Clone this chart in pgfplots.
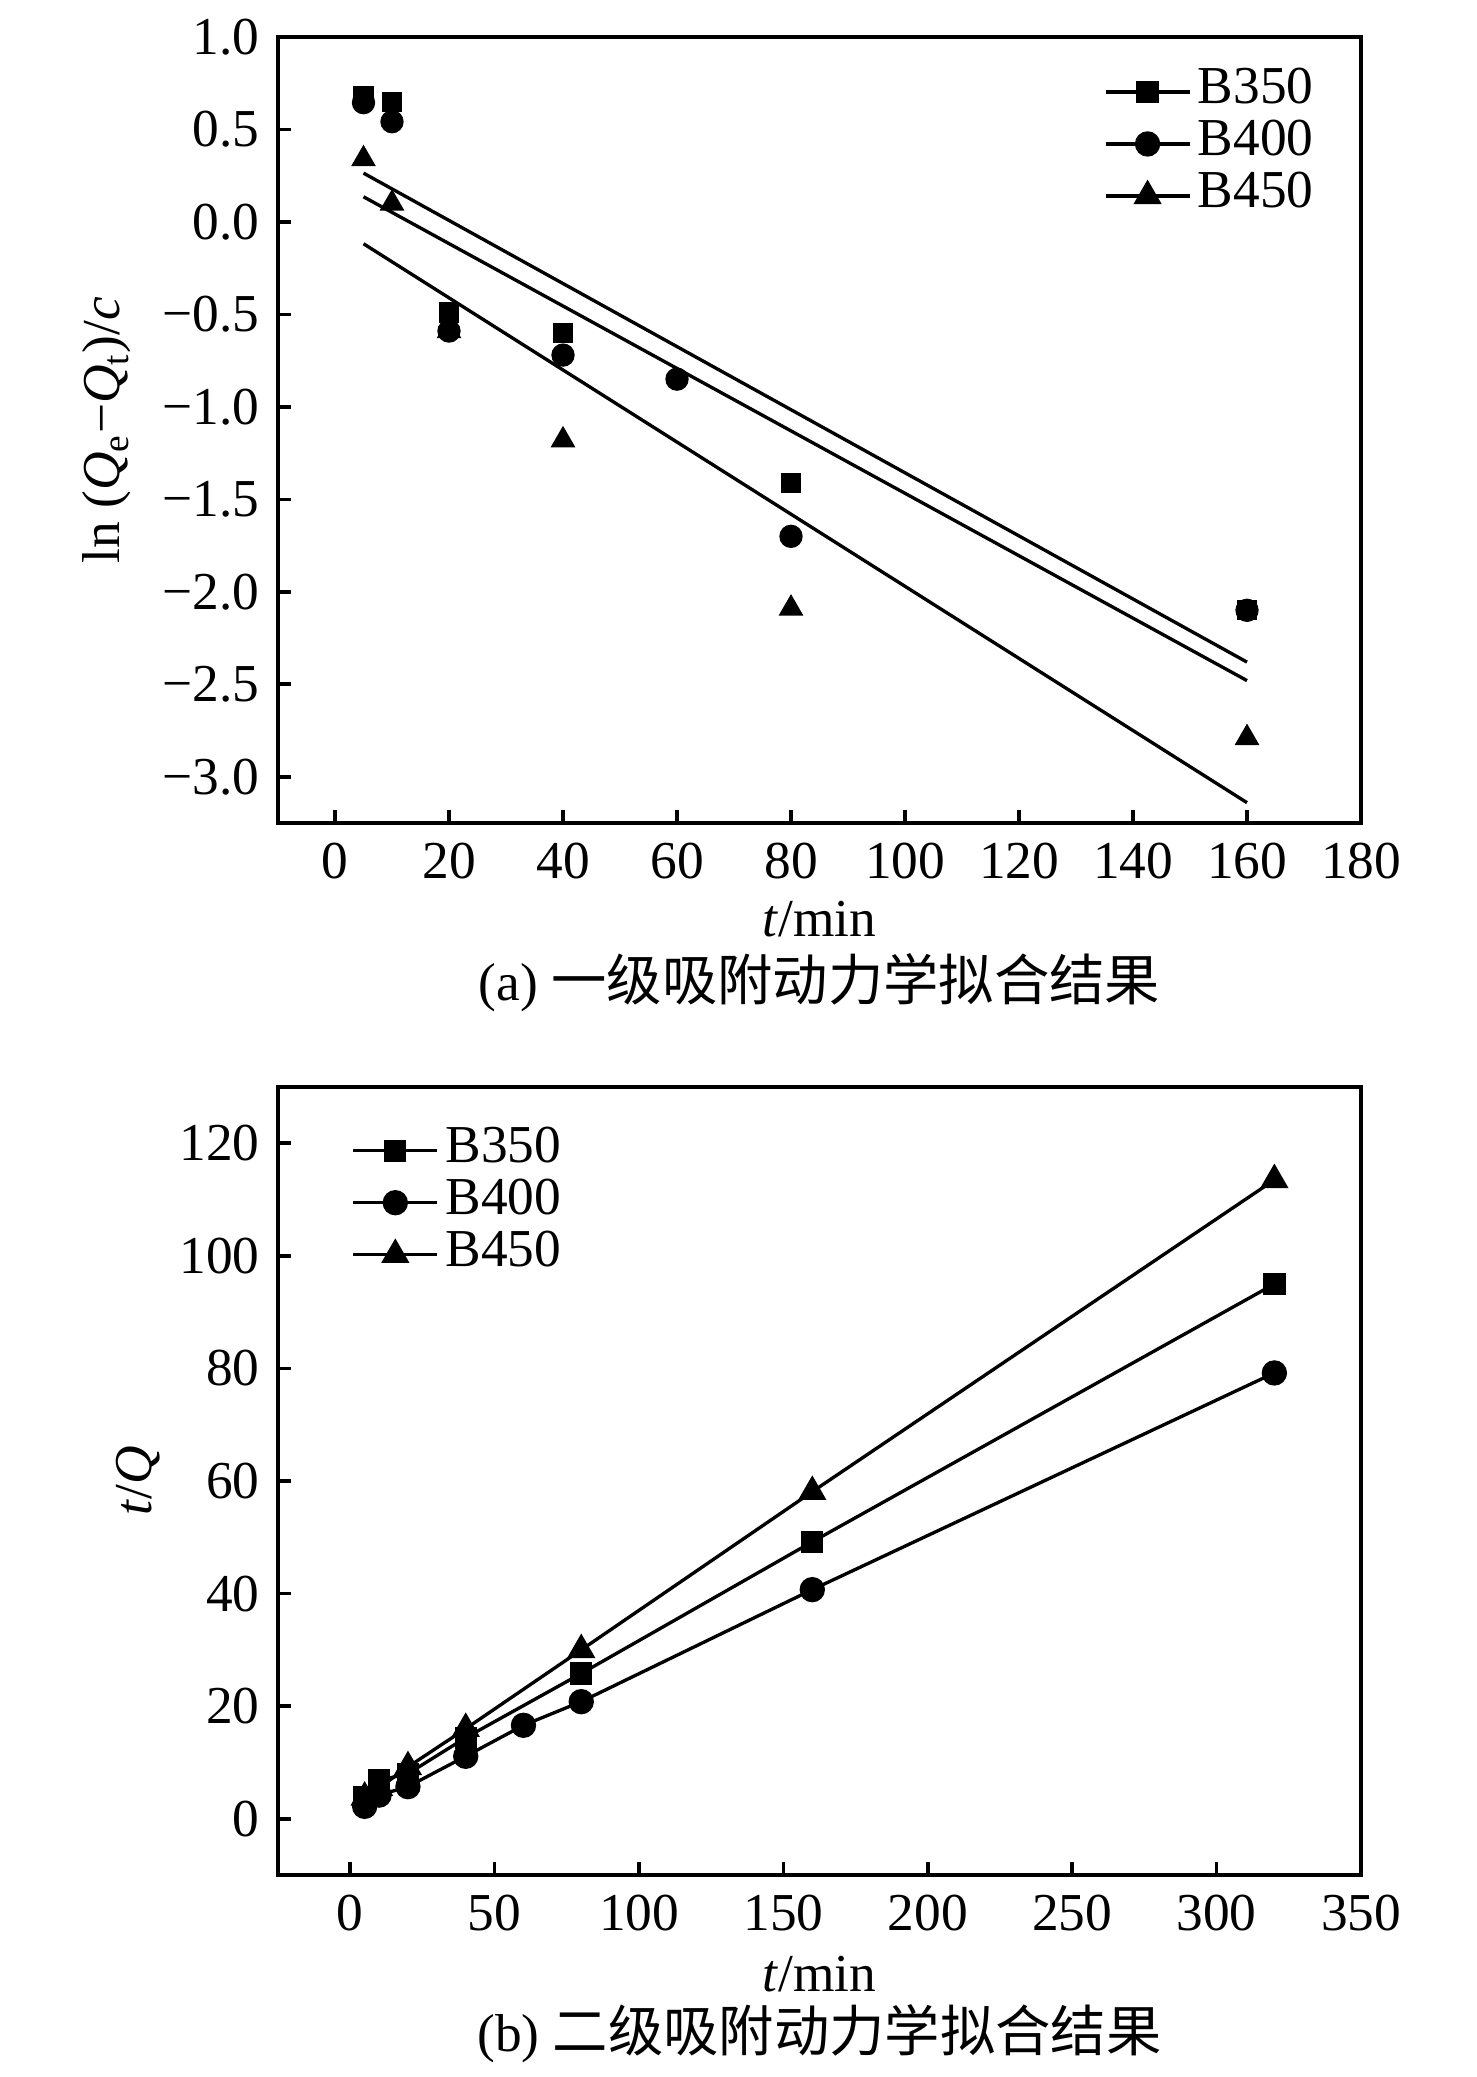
\documentclass[border=0pt]{standalone}
\usepackage{pgfplots}
\pgfplotsset{compat=1.18}
\usepackage{fontspec}
\setmainfont{Liberation Serif}
\newfontfamily\cjk{Noto Sans CJK SC}
\newcommand{\fs}{\fontsize{16}{19}\selectfont}
\pgfplotsset{
  myaxis/.style={
    scale only axis,
    width=324.9pt,
    axis line style={line width=1.2pt},
    tick pos=left,
    tick align=inside,
    major tick length=4pt,
    tick style={line width=1.1pt,black},
    /pgf/number format/assume math mode=true,
    tick label style={font=\fs},
    xticklabel style={yshift=-2.6pt},
    yticklabel style={xshift=-2pt},
    legend cell align=left,
    legend style={draw=none, fill=none, font=\fs, inner sep=0pt,
      nodes={inner ysep=0pt, text height=11.2pt, text depth=4.4pt},
      column sep=0pt},
    legend image code/.code={
      \draw[mark repeat=2,mark phase=2,#1] plot coordinates {(0pt,0pt) (12.6pt,0pt) (25.2pt,0pt)};},
    clip=false,
  },
  sq/.style={mark=square*, mark size=2.85pt, black, mark options={solid}},
  ci/.style={mark=*, mark size=3.3pt, black, mark options={solid}},
  tr/.style={mark=triangle*, mark size=3.9pt, black, mark options={solid}},
}
\begin{document}
\begin{tikzpicture}
\path[use as bounding box] (0pt,0pt) rectangle (442.8pt,-623.1pt);

% ---------------- panel (a) ----------------
\begin{axis}[myaxis,
  at={(83.4pt,-246.9pt)}, anchor=south west,
  height=235.8pt,
  xmin=-10, xmax=180, ymin=-3.25, ymax=1.0,
  xtick={0,20,...,180},
  ytick={-3,-2.5,-2,-1.5,-1,-0.5,0,0.5,1},
  yticklabels={−3.0,−2.5,−2.0,−1.5,−1.0,−0.5,0.0,0.5,1.0},
  legend style={at={(0.762,0.964)}, anchor=north west},
]
\addlegendimage{sq, line width=1pt}
\addlegendentry{B350}
\addlegendimage{ci, line width=1pt}
\addlegendentry{B400}
\addlegendimage{tr, line width=1pt}
\addlegendentry{B450}
% fitted lines
\addplot[black, line width=1pt, no marks, forget plot] coordinates {(5,0.264) (160,-2.38)};
\addplot[black, line width=1pt, no marks, forget plot] coordinates {(5,0.136) (160,-2.48)};
\addplot[black, line width=1pt, no marks, forget plot] coordinates {(5,-0.118) (160,-3.14)};
% data
\addplot[sq, only marks, forget plot] coordinates {(5,0.68) (10,0.648) (20,-0.49) (40,-0.60) (80,-1.41) (160,-2.10)};
\addplot[ci, only marks, forget plot] coordinates {(5,0.645) (10,0.542) (20,-0.59) (40,-0.72) (60,-0.85) (80,-1.70) (160,-2.10)};
\addplot[tr, only marks, forget plot] coordinates {(5,0.34) (10,0.10) (20,-0.59) (40,-1.18) (80,-2.09) (160,-2.79)};
\end{axis}
\node[rotate=90, font=\fs, anchor=center] at (32pt,-129pt)
  {ln (\textit{Q}\textsubscript{e}−\textit{Q}\textsubscript{t})/\textit{c}};
\node[font=\fs, anchor=center] at (245.85pt,-275.6pt) {\textit{t}/min};
\node[font=\fs, anchor=center] at (245.85pt,-294.9pt) {(a) {\cjk\fontsize{16.6}{19}\selectfont 一级吸附动力学拟合结果}};

% ---------------- panel (b) ----------------
\begin{axis}[myaxis,
  at={(83.4pt,-562.5pt)}, anchor=south west,
  height=236.4pt,
  xmin=-25, xmax=350, ymin=-10, ymax=130,
  xtick={0,50,...,350},
  ytick={0,20,...,120},
  legend style={at={(0.0674,0.953)}, anchor=north west},
]
\addplot[sq, line width=1pt] coordinates {(5,3.8) (10,6.8) (20,8.0) (40,14.4) (80,25.8) (160,49.2) (320,95.0)};
\addlegendentry{B350}
\addplot[ci, line width=1pt] coordinates {(5,2.2) (10,4.2) (20,5.7) (40,11.1) (60,16.6) (80,20.8) (160,40.7) (320,79.2)};
\addlegendentry{B400}
\addplot[tr, line width=1pt] coordinates {(5,3.8) (10,5.5) (20,9.2) (40,16.0) (80,30.0) (160,58.1) (320,113.5)};
\addlegendentry{B450}
\end{axis}
\node[rotate=90, font=\fs, anchor=center] at (41.4pt,-444.3pt) {\textit{t}/\textit{Q}};
\node[font=\fs, anchor=center] at (245.85pt,-592.2pt) {\textit{t}/min};
\node[font=\fs, anchor=center] at (245.85pt,-610.2pt) {(b) {\cjk\fontsize{16.6}{19}\selectfont 二级吸附动力学拟合结果}};
\end{tikzpicture}
\end{document}
